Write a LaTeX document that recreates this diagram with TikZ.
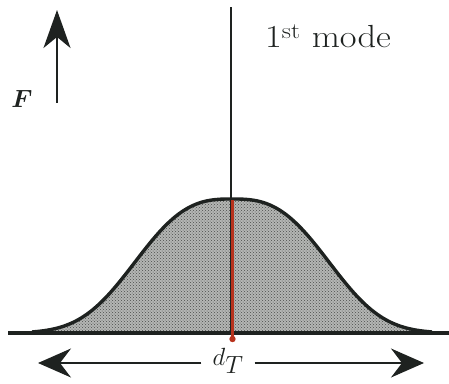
\documentclass[tikz,border=0pt]{standalone}
\usetikzlibrary{arrows.meta,patterns}
\definecolor{ink}{HTML}{1E2220}
\definecolor{redline}{HTML}{B8321C}
\definecolor{bellgray}{HTML}{B4B6B4}
\definecolor{dotgray}{HTML}{4A4C4A}
\begin{document}
\begin{tikzpicture}[x=1pt,y=1pt,
  thickline/.style={draw=ink,line width=3.4pt},
  thinline/.style={draw=ink,line width=1.8pt},
  bigtip/.style={-{Stealth[length=33pt,width=29pt,inset=11pt]}},
  lbl/.style={text=ink,inner sep=0pt}]
\useasboundingbox (0,0) rectangle (449,383);
\def\bellpath{plot[domain=-1.75:1.75,samples=140] ({232+114*\x},{50+134*exp(-(abs(\x))^2.8)})}
% shaded bell
\fill[bellgray] \bellpath -- cycle;
\fill[pattern=crosshatch dots,pattern color=dotgray] \bellpath -- cycle;
\draw[thickline,line cap=round] \bellpath;
% baseline
\coordinate (bl) at (8,50);
\coordinate (br) at (449,50);
\draw[thickline] (bl) -- (br);
% vertical axis
\coordinate (vt) at (231,376);
\coordinate (vb) at (231,50);
\draw[draw=ink,line width=1.7pt] (vb) -- (vt);
% red center line
\coordinate (rt) at (232.5,183);
\coordinate (rb) at (232.5,44);
\draw[redline,line width=2.6pt] (rb) -- (rt);
\fill[redline] (rb) circle (3.2pt);
% force arrow
\coordinate (fa) at (57,280);
\coordinate (fb) at (57,373);
\draw[thinline,-{Stealth[length=38pt,width=27pt,inset=11pt]}] (fa) -- (fb);
\node[lbl,font=\fontsize{40}{46}\selectfont\boldmath] (F) at (22,284) {$F$};
% mode label
\node[lbl,anchor=base west,xscale=1.14,font=\fontsize{32}{38}\selectfont] (mode) at (265,335) {1\textsuperscript{st} mode};
% width arrows
\node[lbl,inner xsep=11pt,font=\fontsize{37}{43}\selectfont] (dT) at (228,22) {$d_T$};
\coordinate (lt) at (38,20);
\coordinate (rtip) at (424,20);
\draw[thinline,line width=1.4pt,bigtip] (dT.west |- lt) -- (lt);
\draw[thinline,line width=1.4pt,bigtip] (dT.east |- rtip) -- (rtip);
\end{tikzpicture}
\end{document}
